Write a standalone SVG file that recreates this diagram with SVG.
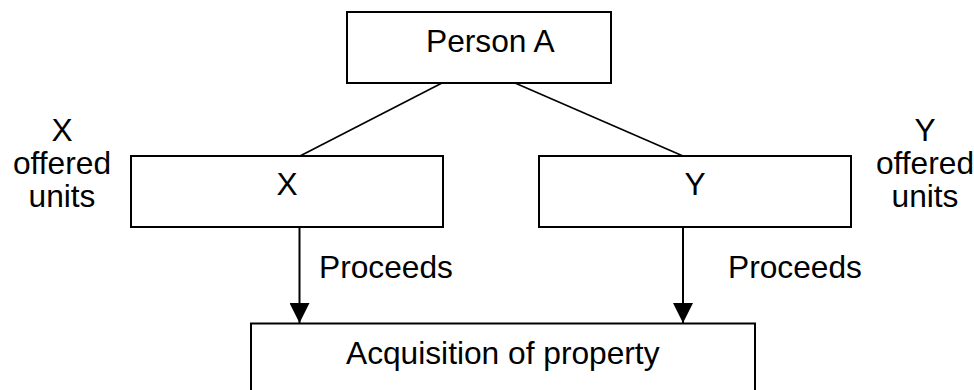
<svg xmlns="http://www.w3.org/2000/svg" width="974" height="390" viewBox="0 0 974 390">
<style>
.box{fill:#fff;stroke:#000;stroke-width:2}
.t{font-family:"Liberation Sans",Arial,sans-serif;font-size:31.7px;fill:#000}
.c{text-anchor:middle}
.ln{stroke:#000;stroke-width:1.6;fill:none}
.ar{stroke:#000;stroke-width:2;fill:none}
</style>
<defs>
<marker id="ah" markerWidth="20" markerHeight="20" refX="20" refY="10" orient="auto" markerUnits="userSpaceOnUse" viewBox="0 0 20 20">
<path d="M0,0 L20,10 L0,20 Z" fill="#000"/>
</marker>
</defs>
<g id="connectors">
<line class="ln" x1="442" y1="83" x2="300" y2="156"/>
<line class="ln" x1="515" y1="83" x2="683" y2="156"/>
<line class="ar" x1="299.5" y1="227" x2="299.5" y2="323" marker-end="url(#ah)"/>
<line class="ar" x1="683" y1="227" x2="683" y2="323" marker-end="url(#ah)"/>
<text class="t" x="319" y="278">Proceeds</text>
<text class="t" x="728" y="278">Proceeds</text>
</g>
<g id="personA">
<rect class="box" x="347" y="12" width="264" height="71"/>
<text class="t" x="426" y="52">Person A</text>
</g>
<g id="X">
<rect class="box" x="131" y="156" width="312" height="71"/>
<text class="t c" x="287" y="195">X</text>
</g>
<g id="Y">
<rect class="box" x="539" y="156" width="312" height="71"/>
<text class="t c" x="695" y="195">Y</text>
</g>
<g id="acquisition">
<rect class="box" x="251" y="323.5" width="504" height="90"/>
<text class="t" x="346" y="364">Acquisition of property</text>
</g>
<g id="xLabel">
<text class="t c" x="62" y="141">X</text>
<text class="t c" x="62" y="174">offered</text>
<text class="t c" x="62" y="207">units</text>
</g>
<g id="yLabel">
<text class="t c" x="925" y="141">Y</text>
<text class="t c" x="925" y="174">offered</text>
<text class="t c" x="925" y="207">units</text>
</g>
</svg>
